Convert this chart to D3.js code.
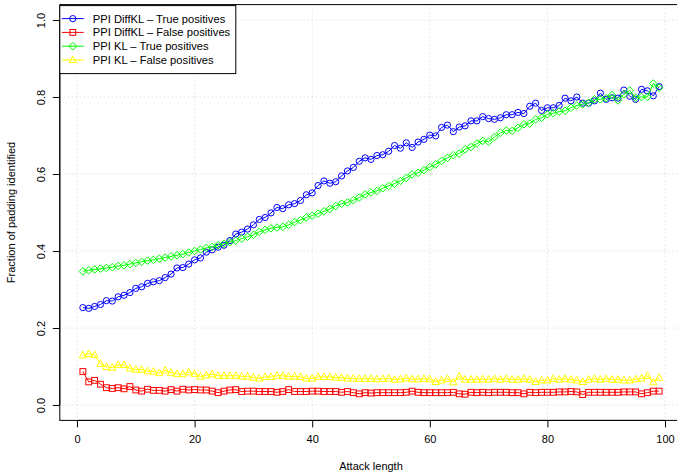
<!DOCTYPE html>
<html><head><meta charset="utf-8">
<script src="https://cdn.jsdelivr.net/npm/d3@7"></script>
<style>body{margin:0;background:#fff}svg{display:block;font-family:"Liberation Sans",Arial,sans-serif}</style>
</head><body><svg id="c" width="677" height="476"></svg>
<script>
const attackLength = [1,2,3,4,5,6,7,8,9,10,11,12,13,14,15,16,17,18,19,20,21,22,23,24,25,26,27,28,29,30,31,32,33,34,35,36,37,38,39,40,41,42,43,44,45,46,47,48,49,50,51,52,53,54,55,56,57,58,59,60,61,62,63,64,65,66,67,68,69,70,71,72,73,74,75,76,77,78,79,80,81,82,83,84,85,86,87,88,89,90,91,92,93,94,95,96,97,98,99];
const diffklTrue = [0.253,0.251,0.256,0.261,0.271,0.270,0.281,0.285,0.292,0.303,
0.307,0.316,0.320,0.323,0.331,0.340,0.356,0.357,0.366,0.377,
0.382,0.397,0.403,0.410,0.415,0.427,0.444,0.449,0.457,0.468,
0.482,0.487,0.499,0.513,0.510,0.520,0.523,0.531,0.546,0.551,
0.570,0.582,0.576,0.580,0.595,0.608,0.617,0.633,0.642,0.638,
0.648,0.650,0.659,0.674,0.667,0.681,0.669,0.683,0.690,0.701,
0.699,0.721,0.727,0.710,0.722,0.725,0.738,0.738,0.749,0.744,
0.742,0.746,0.754,0.754,0.760,0.757,0.776,0.784,0.765,0.772,
0.772,0.778,0.797,0.790,0.800,0.784,0.784,0.790,0.810,0.794,
0.798,0.797,0.818,0.802,0.794,0.820,0.816,0.803,0.827];
const diffklFalse = [0.087,0.060,0.064,0.054,0.045,0.043,0.045,0.042,0.048,0.039,
0.036,0.041,0.038,0.038,0.036,0.040,0.036,0.041,0.039,0.040,
0.039,0.039,0.036,0.032,0.036,0.039,0.040,0.035,0.036,0.036,
0.035,0.035,0.035,0.033,0.035,0.040,0.035,0.035,0.035,0.036,
0.036,0.035,0.035,0.035,0.033,0.035,0.032,0.029,0.032,0.031,
0.032,0.032,0.032,0.032,0.032,0.033,0.036,0.033,0.032,0.032,
0.032,0.032,0.032,0.033,0.029,0.028,0.033,0.032,0.033,0.032,
0.033,0.033,0.033,0.032,0.032,0.029,0.033,0.032,0.033,0.033,
0.033,0.034,0.034,0.035,0.034,0.027,0.033,0.033,0.033,0.033,
0.033,0.033,0.034,0.034,0.034,0.029,0.032,0.036,0.036];
const klTrue = [0.347,0.350,0.352,0.354,0.356,0.358,0.361,0.363,0.366,0.369,
0.372,0.375,0.377,0.380,0.383,0.386,0.389,0.392,0.396,0.400,
0.404,0.408,0.411,0.415,0.419,0.423,0.427,0.432,0.437,0.442,
0.450,0.455,0.459,0.461,0.463,0.468,0.475,0.480,0.487,0.492,
0.497,0.503,0.509,0.517,0.523,0.526,0.532,0.539,0.547,0.552,
0.556,0.563,0.569,0.575,0.582,0.590,0.599,0.603,0.610,0.618,
0.625,0.634,0.642,0.649,0.653,0.664,0.670,0.679,0.686,0.684,
0.696,0.707,0.713,0.712,0.720,0.729,0.731,0.742,0.746,0.755,
0.758,0.762,0.764,0.772,0.778,0.781,0.785,0.794,0.794,0.797,
0.805,0.791,0.807,0.817,0.798,0.800,0.800,0.835,0.824];
const klFalse = [0.129,0.133,0.130,0.107,0.099,0.097,0.104,0.104,0.095,0.092,
0.092,0.088,0.087,0.083,0.090,0.084,0.081,0.080,0.085,0.081,
0.074,0.077,0.080,0.076,0.076,0.076,0.076,0.074,0.074,0.071,
0.069,0.073,0.073,0.076,0.076,0.074,0.074,0.073,0.069,0.069,
0.073,0.073,0.073,0.071,0.071,0.069,0.069,0.068,0.068,0.068,
0.067,0.068,0.069,0.066,0.067,0.070,0.067,0.067,0.068,0.067,
0.060,0.064,0.068,0.059,0.074,0.066,0.066,0.066,0.067,0.066,
0.068,0.066,0.068,0.066,0.066,0.068,0.066,0.060,0.064,0.064,
0.068,0.066,0.068,0.066,0.064,0.060,0.066,0.068,0.066,0.068,
0.066,0.066,0.064,0.064,0.067,0.069,0.076,0.059,0.071];
const seriesNames = ["PPI DiffKL \u2013 True positives","PPI DiffKL \u2013 False positives","PPI KL \u2013 True positives","PPI KL \u2013 False positives"];
const seriesColors = ["#0000ff","#ff0000","#00ff00","#ffff00"];
const seriesShapes = ["circle","square","diamond","triangle"];
const xTicks = [0,20,40,60,80,100];
const yTicks = [0,0.2,0.4,0.6,0.8,1.0];
const xTitle = "Attack length";
const yTitle = "Fraction of padding identified";

const series = [diffklTrue, diffklFalse, klTrue, klFalse];
const svg = d3.select("#c");
const x = d3.scaleLinear().domain([-2.92,102.92]).range([59.8,682.2]);
const y = d3.scaleLinear().domain([-0.04,1.04]).range([420.4,4.6]);
const [L,R] = x.range(), [B,T] = y.range();

// grid
svg.append("g").selectAll("line").data(xTicks).join("line")
  .attr("x1",d=>x(d)).attr("x2",d=>x(d)).attr("y1",T).attr("y2",B)
  .attr("stroke","#d3d3d3").attr("stroke-dasharray","1,3");
svg.append("g").selectAll("line").data(yTicks).join("line")
  .attr("y1",d=>y(d)).attr("y2",d=>y(d)).attr("x1",L).attr("x2",R)
  .attr("stroke","#d3d3d3").attr("stroke-dasharray","1,3");

// box
svg.append("rect").attr("x",L).attr("y",T).attr("width",R-L).attr("height",B-T)
  .attr("fill","none").attr("stroke","#000").attr("stroke-width",1);

// axes
const xa = svg.append("g").attr("transform",`translate(0,${B})`)
  .call(d3.axisBottom(x).tickValues(xTicks).tickSize(7).tickPadding(8).tickFormat(d3.format("d")));
const ya = svg.append("g").attr("transform",`translate(${L},0)`)
  .call(d3.axisLeft(y).tickValues(yTicks).tickSize(7).tickPadding(4).tickFormat(d3.format(".1f")));
[xa,ya].forEach(a=>{a.select(".domain").remove();
  a.selectAll("line").attr("stroke","#000");
  a.selectAll("text").attr("font-size",11).attr("fill","#000").attr("font-family","Liberation Sans, Arial, sans-serif");});
xa.append("line").attr("x1",x(0)).attr("x2",x(100)).attr("stroke","#000");
ya.append("line").attr("y1",y(0)).attr("y2",y(1)).attr("stroke","#000");
ya.selectAll(".tick text").attr("text-anchor","middle").attr("dy",null)
  .attr("x",null).attr("transform","translate(-18,0) rotate(-90)").attr("dominant-baseline","middle");

svg.append("text").attr("x",(x(0)+x(100))/2).attr("y",470).attr("text-anchor","middle")
  .attr("font-size",11).text(xTitle);
svg.append("text").attr("transform",`translate(15,${(y(0)+y(1))/2}) rotate(-90)`)
  .attr("text-anchor","middle").attr("font-size",11).text(yTitle);

function marker(g, shape, color, cx, cy){
  if(shape==="circle") g.append("circle").attr("cx",cx).attr("cy",cy).attr("r",3.1);
  else if(shape==="square") g.append("rect").attr("x",cx-2.9).attr("y",cy-2.9).attr("width",5.8).attr("height",5.8);
  else if(shape==="diamond") g.append("path").attr("d",`M${cx},${cy-3.8}L${cx+3.8},${cy}L${cx},${cy+3.8}L${cx-3.8},${cy}Z`);
  else g.append("path").attr("d",`M${cx},${cy-4}L${cx+3.6},${cy+2.6}L${cx-3.6},${cy+2.6}Z`);
}
const line = d3.line().x((d,i)=>x(attackLength[i])).y(d=>y(d));
series.forEach((vals,k)=>{
  const g = svg.append("g").attr("fill","none").attr("stroke",seriesColors[k]).attr("stroke-width",1);
  g.append("path").attr("d",line(vals));
  vals.forEach((v,i)=>marker(g,seriesShapes[k],seriesColors[k],x(attackLength[i]),y(v)));
});

// legend
const lg = svg.append("g");
lg.append("rect").attr("x",L).attr("y",T+1).attr("width",176).attr("height",68)
  .attr("fill","#fff").attr("stroke","#000");
seriesNames.forEach((n,k)=>{
  const cy = T+14+k*13.8;
  const g = lg.append("g").attr("fill","none").attr("stroke",seriesColors[k]);
  g.append("line").attr("x1",L+2).attr("x2",L+24).attr("y1",cy).attr("y2",cy);
  marker(g,seriesShapes[k],seriesColors[k],L+13,cy);
  lg.append("text").attr("x",L+33).attr("y",cy).attr("dy","0.35em").attr("font-size",11.2).text(n);
});
</script></body></html>
